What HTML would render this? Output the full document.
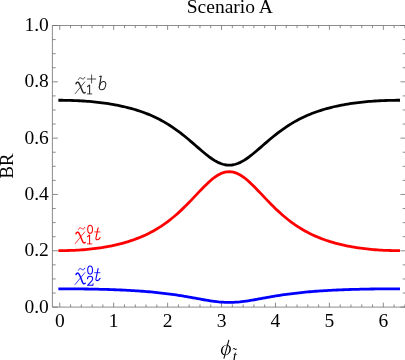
<!DOCTYPE html>
<html><head><meta charset="utf-8"><title>Scenario A</title>
<style>html,body{margin:0;padding:0;background:#fff;overflow:hidden}body{width:405px;height:360px;font-family:"Liberation Serif",serif}svg{display:block;will-change:transform}</style>
</head><body>
<svg width="405" height="360" viewBox="0 0 405 360">
<g stroke="#6e6e6e" stroke-width="0.8" fill="none">
<path d="M52.40 25.50 H406.00 V307.10 H52.40 Z"/>
<path d="M59.75 307.10v-4.40 M59.75 25.50v4.40 M70.54 307.10v-2.65 M70.54 25.50v2.65 M81.32 307.10v-2.65 M81.32 25.50v2.65 M92.11 307.10v-2.65 M92.11 25.50v2.65 M102.89 307.10v-2.65 M102.89 25.50v2.65 M113.68 307.10v-4.40 M113.68 25.50v4.40 M124.47 307.10v-2.65 M124.47 25.50v2.65 M135.25 307.10v-2.65 M135.25 25.50v2.65 M146.04 307.10v-2.65 M146.04 25.50v2.65 M156.82 307.10v-2.65 M156.82 25.50v2.65 M167.61 307.10v-4.40 M167.61 25.50v4.40 M178.40 307.10v-2.65 M178.40 25.50v2.65 M189.18 307.10v-2.65 M189.18 25.50v2.65 M199.97 307.10v-2.65 M199.97 25.50v2.65 M210.75 307.10v-2.65 M210.75 25.50v2.65 M221.54 307.10v-4.40 M221.54 25.50v4.40 M232.33 307.10v-2.65 M232.33 25.50v2.65 M243.11 307.10v-2.65 M243.11 25.50v2.65 M253.90 307.10v-2.65 M253.90 25.50v2.65 M264.68 307.10v-2.65 M264.68 25.50v2.65 M275.47 307.10v-4.40 M275.47 25.50v4.40 M286.26 307.10v-2.65 M286.26 25.50v2.65 M297.04 307.10v-2.65 M297.04 25.50v2.65 M307.83 307.10v-2.65 M307.83 25.50v2.65 M318.61 307.10v-2.65 M318.61 25.50v2.65 M329.40 307.10v-4.40 M329.40 25.50v4.40 M340.19 307.10v-2.65 M340.19 25.50v2.65 M350.97 307.10v-2.65 M350.97 25.50v2.65 M361.76 307.10v-2.65 M361.76 25.50v2.65 M372.54 307.10v-2.65 M372.54 25.50v2.65 M383.33 307.10v-4.40 M383.33 25.50v4.40 M394.12 307.10v-2.65 M394.12 25.50v2.65 M404.90 307.10v-2.65 M404.90 25.50v2.65 M52.40 307.10h5.50 M406.00 307.10h-5.50 M52.40 293.02h3.30 M406.00 293.02h-3.30 M52.40 278.94h3.30 M406.00 278.94h-3.30 M52.40 264.86h3.30 M406.00 264.86h-3.30 M52.40 250.78h5.50 M406.00 250.78h-5.50 M52.40 236.70h3.30 M406.00 236.70h-3.30 M52.40 222.62h3.30 M406.00 222.62h-3.30 M52.40 208.54h3.30 M406.00 208.54h-3.30 M52.40 194.46h5.50 M406.00 194.46h-5.50 M52.40 180.38h3.30 M406.00 180.38h-3.30 M52.40 166.30h3.30 M406.00 166.30h-3.30 M52.40 152.22h3.30 M406.00 152.22h-3.30 M52.40 138.14h5.50 M406.00 138.14h-5.50 M52.40 124.06h3.30 M406.00 124.06h-3.30 M52.40 109.98h3.30 M406.00 109.98h-3.30 M52.40 95.90h3.30 M406.00 95.90h-3.30 M52.40 81.82h5.50 M406.00 81.82h-5.50 M52.40 67.74h3.30 M406.00 67.74h-3.30 M52.40 53.66h3.30 M406.00 53.66h-3.30 M52.40 39.58h3.30 M406.00 39.58h-3.30 M52.40 25.50h5.50 M406.00 25.50h-5.50"/>
</g>
<path d="M59.75 100.26 L61.87 100.27 L63.99 100.29 L66.10 100.32 L68.22 100.36 L70.34 100.41 L72.46 100.48 L74.57 100.56 L76.69 100.65 L78.81 100.75 L80.93 100.87 L83.05 101.00 L85.16 101.14 L87.28 101.30 L89.40 101.47 L91.52 101.66 L93.64 101.86 L95.75 102.07 L97.87 102.30 L99.99 102.55 L102.11 102.82 L104.22 103.10 L106.34 103.39 L108.46 103.71 L110.58 104.05 L112.70 104.40 L114.81 104.78 L116.93 105.18 L119.05 105.60 L121.17 106.04 L123.28 106.51 L125.40 107.00 L127.52 107.52 L129.64 108.07 L131.76 108.64 L133.87 109.24 L135.99 109.88 L138.11 110.55 L140.23 111.25 L142.35 111.99 L144.46 112.76 L146.58 113.57 L148.70 114.42 L150.82 115.32 L152.93 116.25 L155.05 117.23 L157.17 118.26 L159.29 119.33 L161.41 120.46 L163.52 121.63 L165.64 122.86 L167.76 124.14 L169.88 125.47 L171.99 126.86 L174.11 128.30 L176.23 129.79 L178.35 131.34 L180.47 132.93 L182.58 134.58 L184.70 136.27 L186.82 138.01 L188.94 139.78 L191.06 141.58 L193.17 143.41 L195.29 145.25 L197.41 147.10 L199.53 148.93 L201.64 150.75 L203.76 152.54 L205.88 154.27 L208.00 155.93 L210.12 157.51 L212.23 158.99 L214.35 160.35 L216.47 161.57 L218.59 162.64 L220.70 163.53 L222.82 164.24 L224.94 164.76 L227.06 165.07 L229.18 165.17 L231.29 165.07 L233.41 164.76 L235.53 164.24 L237.65 163.53 L239.77 162.64 L241.88 161.57 L244.00 160.35 L246.12 158.99 L248.24 157.51 L250.35 155.93 L252.47 154.27 L254.59 152.54 L256.71 150.75 L258.83 148.93 L260.94 147.10 L263.06 145.25 L265.18 143.41 L267.30 141.58 L269.41 139.78 L271.53 138.01 L273.65 136.27 L275.77 134.58 L277.89 132.93 L280.00 131.34 L282.12 129.79 L284.24 128.30 L286.36 126.86 L288.48 125.47 L290.59 124.14 L292.71 122.86 L294.83 121.63 L296.95 120.46 L299.06 119.33 L301.18 118.26 L303.30 117.23 L305.42 116.25 L307.54 115.32 L309.65 114.42 L311.77 113.57 L313.89 112.76 L316.01 111.99 L318.12 111.25 L320.24 110.55 L322.36 109.88 L324.48 109.24 L326.60 108.64 L328.71 108.07 L330.83 107.52 L332.95 107.00 L335.07 106.51 L337.19 106.04 L339.30 105.60 L341.42 105.18 L343.54 104.78 L345.66 104.40 L347.77 104.05 L349.89 103.71 L352.01 103.39 L354.13 103.10 L356.25 102.82 L358.36 102.55 L360.48 102.30 L362.60 102.07 L364.72 101.86 L366.83 101.66 L368.95 101.47 L371.07 101.30 L373.19 101.14 L375.31 101.00 L377.42 100.87 L379.54 100.75 L381.66 100.65 L383.78 100.56 L385.90 100.48 L388.01 100.41 L390.13 100.36 L392.25 100.32 L394.37 100.29 L396.48 100.27 L398.60 100.26" fill="none" stroke="#000" stroke-width="2.8" stroke-linecap="square" stroke-linejoin="round"/>
<path d="M59.75 250.64 L61.87 250.63 L63.99 250.61 L66.10 250.57 L68.22 250.52 L70.34 250.46 L72.46 250.38 L74.57 250.28 L76.69 250.17 L78.81 250.04 L80.93 249.90 L83.05 249.74 L85.16 249.57 L87.28 249.38 L89.40 249.17 L91.52 248.94 L93.64 248.70 L95.75 248.44 L97.87 248.16 L99.99 247.86 L102.11 247.54 L104.22 247.19 L106.34 246.83 L108.46 246.44 L110.58 246.04 L112.70 245.60 L114.81 245.14 L116.93 244.66 L119.05 244.15 L121.17 243.61 L123.28 243.04 L125.40 242.44 L127.52 241.81 L129.64 241.15 L131.76 240.45 L133.87 239.71 L135.99 238.94 L138.11 238.13 L140.23 237.27 L142.35 236.38 L144.46 235.43 L146.58 234.45 L148.70 233.41 L150.82 232.32 L152.93 231.18 L155.05 229.99 L157.17 228.74 L159.29 227.43 L161.41 226.07 L163.52 224.64 L165.64 223.14 L167.76 221.59 L169.88 219.97 L171.99 218.28 L174.11 216.53 L176.23 214.71 L178.35 212.83 L180.47 210.88 L182.58 208.88 L184.70 206.82 L186.82 204.71 L188.94 202.55 L191.06 200.36 L193.17 198.14 L195.29 195.89 L197.41 193.65 L199.53 191.41 L201.64 189.20 L203.76 187.03 L205.88 184.92 L208.00 182.89 L210.12 180.97 L212.23 179.17 L214.35 177.52 L216.47 176.03 L218.59 174.74 L220.70 173.65 L222.82 172.79 L224.94 172.16 L227.06 171.78 L229.18 171.65 L231.29 171.78 L233.41 172.16 L235.53 172.79 L237.65 173.65 L239.77 174.74 L241.88 176.03 L244.00 177.52 L246.12 179.17 L248.24 180.97 L250.35 182.89 L252.47 184.92 L254.59 187.03 L256.71 189.20 L258.83 191.41 L260.94 193.65 L263.06 195.89 L265.18 198.14 L267.30 200.36 L269.41 202.55 L271.53 204.71 L273.65 206.82 L275.77 208.88 L277.89 210.88 L280.00 212.83 L282.12 214.71 L284.24 216.53 L286.36 218.28 L288.48 219.97 L290.59 221.59 L292.71 223.14 L294.83 224.64 L296.95 226.07 L299.06 227.43 L301.18 228.74 L303.30 229.99 L305.42 231.18 L307.54 232.32 L309.65 233.41 L311.77 234.45 L313.89 235.43 L316.01 236.38 L318.12 237.27 L320.24 238.13 L322.36 238.94 L324.48 239.71 L326.60 240.45 L328.71 241.15 L330.83 241.81 L332.95 242.44 L335.07 243.04 L337.19 243.61 L339.30 244.15 L341.42 244.66 L343.54 245.14 L345.66 245.60 L347.77 246.04 L349.89 246.44 L352.01 246.83 L354.13 247.19 L356.25 247.54 L358.36 247.86 L360.48 248.16 L362.60 248.44 L364.72 248.70 L366.83 248.94 L368.95 249.17 L371.07 249.38 L373.19 249.57 L375.31 249.74 L377.42 249.90 L379.54 250.04 L381.66 250.17 L383.78 250.28 L385.90 250.38 L388.01 250.46 L390.13 250.52 L392.25 250.57 L394.37 250.61 L396.48 250.63 L398.60 250.64" fill="none" stroke="#f00" stroke-width="2.8" stroke-linecap="square" stroke-linejoin="round"/>
<path d="M59.75 288.80 L61.87 288.80 L63.99 288.80 L66.10 288.81 L68.22 288.82 L70.34 288.83 L72.46 288.84 L74.57 288.86 L76.69 288.88 L78.81 288.90 L80.93 288.92 L83.05 288.95 L85.16 288.98 L87.28 289.01 L89.40 289.05 L91.52 289.09 L93.64 289.13 L95.75 289.18 L97.87 289.22 L99.99 289.28 L102.11 289.33 L104.22 289.39 L106.34 289.45 L108.46 289.52 L110.58 289.59 L112.70 289.66 L114.81 289.74 L116.93 289.83 L119.05 289.91 L121.17 290.01 L123.28 290.10 L125.40 290.21 L127.52 290.32 L129.64 290.43 L131.76 290.55 L133.87 290.68 L135.99 290.81 L138.11 290.95 L140.23 291.10 L142.35 291.25 L144.46 291.41 L146.58 291.58 L148.70 291.76 L150.82 291.95 L152.93 292.15 L155.05 292.35 L157.17 292.57 L159.29 292.79 L161.41 293.03 L163.52 293.27 L165.64 293.53 L167.76 293.80 L169.88 294.08 L171.99 294.37 L174.11 294.67 L176.23 294.98 L178.35 295.31 L180.47 295.64 L182.58 295.99 L184.70 296.34 L186.82 296.70 L188.94 297.08 L191.06 297.45 L193.17 297.84 L195.29 298.22 L197.41 298.61 L199.53 298.99 L201.64 299.38 L203.76 299.75 L205.88 300.11 L208.00 300.46 L210.12 300.79 L212.23 301.10 L214.35 301.39 L216.47 301.64 L218.59 301.87 L220.70 302.05 L222.82 302.20 L224.94 302.31 L227.06 302.38 L229.18 302.40 L231.29 302.38 L233.41 302.31 L235.53 302.20 L237.65 302.05 L239.77 301.87 L241.88 301.64 L244.00 301.39 L246.12 301.10 L248.24 300.79 L250.35 300.46 L252.47 300.11 L254.59 299.75 L256.71 299.38 L258.83 298.99 L260.94 298.61 L263.06 298.22 L265.18 297.84 L267.30 297.45 L269.41 297.08 L271.53 296.70 L273.65 296.34 L275.77 295.99 L277.89 295.64 L280.00 295.31 L282.12 294.98 L284.24 294.67 L286.36 294.37 L288.48 294.08 L290.59 293.80 L292.71 293.53 L294.83 293.27 L296.95 293.03 L299.06 292.79 L301.18 292.57 L303.30 292.35 L305.42 292.15 L307.54 291.95 L309.65 291.76 L311.77 291.58 L313.89 291.41 L316.01 291.25 L318.12 291.10 L320.24 290.95 L322.36 290.81 L324.48 290.68 L326.60 290.55 L328.71 290.43 L330.83 290.32 L332.95 290.21 L335.07 290.10 L337.19 290.01 L339.30 289.91 L341.42 289.83 L343.54 289.74 L345.66 289.66 L347.77 289.59 L349.89 289.52 L352.01 289.45 L354.13 289.39 L356.25 289.33 L358.36 289.28 L360.48 289.22 L362.60 289.18 L364.72 289.13 L366.83 289.09 L368.95 289.05 L371.07 289.01 L373.19 288.98 L375.31 288.95 L377.42 288.92 L379.54 288.90 L381.66 288.88 L383.78 288.86 L385.90 288.84 L388.01 288.83 L390.13 288.82 L392.25 288.81 L394.37 288.80 L396.48 288.80 L398.60 288.80" fill="none" stroke="#00f" stroke-width="2.8" stroke-linecap="square" stroke-linejoin="round"/>
<g font-family="'Liberation Serif', serif" font-size="19.5" fill="#000">
<text x="48.8" y="312.70" text-anchor="end">0.0</text>
<text x="48.8" y="256.38" text-anchor="end">0.2</text>
<text x="48.8" y="200.06" text-anchor="end">0.4</text>
<text x="48.8" y="143.74" text-anchor="end">0.6</text>
<text x="48.8" y="87.42" text-anchor="end">0.8</text>
<text x="48.8" y="31.10" text-anchor="end">1.0</text>
<text x="59.75" y="326.7" text-anchor="middle">0</text>
<text x="113.68" y="326.7" text-anchor="middle">1</text>
<text x="167.61" y="326.7" text-anchor="middle">2</text>
<text x="221.54" y="326.7" text-anchor="middle">3</text>
<text x="275.47" y="326.7" text-anchor="middle">4</text>
<text x="329.40" y="326.7" text-anchor="middle">5</text>
<text x="383.33" y="326.7" text-anchor="middle">6</text>
<text x="229.8" y="12.8" text-anchor="middle">Scenario A</text>
<text transform="translate(12.9,166.1) rotate(-90)" text-anchor="middle" font-size="18.7">BR</text>
<g stroke="none" fill="#000"><path fill-rule="evenodd" transform="translate(225.9 350) skewX(-9)" d="M-4.95 0 A4.95 5.35 0 1 0 4.95 0 A4.95 5.35 0 1 0 -4.95 0 Z M-3.45 0 A3.45 4.70 0 1 0 3.45 0 A3.45 4.70 0 1 0 -3.45 0 Z"/><path d="M228.75 340.3 L224.0 358.2" fill="none" stroke="#000" stroke-width="1.05" stroke-linecap="round"/></g>
<text x="232.7" y="361.4" font-style="italic" font-size="15">t</text>
<text x="232.6" y="358.2" font-size="14">˜</text>
</g>
<g transform="translate(75.00 89.90)" fill="none" stroke="#262626" stroke-linecap="round" stroke-linejoin="round"><path d="M1.0,-6.2 C1.4,-7.3 2.3,-7.9 3.1,-7.6 C3.9,-7.3 4.3,-6.4 4.9,-4.9 L7.6,1.7 C8.2,3.1 9.1,3.5 10.2,2.6" stroke-width="1.45"/><path d="M9.8,-8.05 L0.1,3.8" stroke-width="0.75"/><path d="M3.4,-10.5 C4.1,-12.3 5.4,-12.5 6.6,-11.5 C7.8,-10.5 9.1,-10.7 9.8,-12.5" stroke-width="0.85"/><path d="M11.9,-10.9 H21.1 M16.6,-15.4 V-6.5" stroke-width="0.82" stroke-linecap="butt"/><path d="M12.5,-3.3 L14.6,-4.9 V3.9" stroke-width="1.05"/><path d="M12.4,4.0 H16.8" stroke-width="0.85"/><path d="M24.7,-13.4 L26.2,-13.8 L24.25,-2.6" stroke-width="1.1"/><path d="M24.7,-4.6 C25.4,-7.0 27.0,-8.4 28.6,-8.4 C30.2,-8.4 31.1,-7.0 30.8,-5.2 C30.4,-2.4 28.6,-0.1 26.5,-0.1 C24.9,-0.1 24.0,-1.3 24.3,-3.2" stroke-width="1.05"/></g>
<g transform="translate(75.00 239.90)" fill="none" stroke="#f00" stroke-linecap="round" stroke-linejoin="round"><path d="M1.0,-6.2 C1.4,-7.3 2.3,-7.9 3.1,-7.6 C3.9,-7.3 4.3,-6.4 4.9,-4.9 L7.6,1.7 C8.2,3.1 9.1,3.5 10.2,2.6" stroke-width="1.45"/><path d="M9.8,-8.05 L0.1,3.8" stroke-width="0.75"/><path d="M3.4,-10.5 C4.1,-12.3 5.4,-12.5 6.6,-11.5 C7.8,-10.5 9.1,-10.7 9.8,-12.5" stroke-width="0.85"/><ellipse cx="15.1" cy="-10.6" rx="2.4" ry="4.05" stroke-width="1.05"/><path d="M12.5,-3.3 L14.6,-4.9 V3.9" stroke-width="1.05"/><path d="M12.4,4.0 H16.8" stroke-width="0.85"/><path d="M23.1,-12.1 L21.0,-2.2 C20.7,-0.6 21.3,-0.1 22.3,-0.1 C23.4,-0.1 24.4,-1.0 25.1,-2.4" stroke-width="1.1"/><path d="M19.7,-8.0 H25.0" stroke-width="0.8"/></g>
<g transform="translate(75.00 280.70)" fill="none" stroke="#00f" stroke-linecap="round" stroke-linejoin="round"><path d="M1.0,-6.2 C1.4,-7.3 2.3,-7.9 3.1,-7.6 C3.9,-7.3 4.3,-6.4 4.9,-4.9 L7.6,1.7 C8.2,3.1 9.1,3.5 10.2,2.6" stroke-width="1.45"/><path d="M9.8,-8.05 L0.1,3.8" stroke-width="0.75"/><path d="M3.4,-10.5 C4.1,-12.3 5.4,-12.5 6.6,-11.5 C7.8,-10.5 9.1,-10.7 9.8,-12.5" stroke-width="0.85"/><ellipse cx="15.1" cy="-10.6" rx="2.4" ry="4.05" stroke-width="1.05"/><path d="M12.5,-2.0 C12.5,-3.6 13.7,-4.4 15.1,-4.4 C16.7,-4.4 17.7,-3.3 17.7,-1.9 C17.7,-0.3 16.4,0.9 14.7,2.4 L12.5,4.6 H17.8 L18.1,3.1" stroke-width="1.05"/><path d="M23.1,-12.1 L21.0,-2.2 C20.7,-0.6 21.3,-0.1 22.3,-0.1 C23.4,-0.1 24.4,-1.0 25.1,-2.4" stroke-width="1.1"/><path d="M19.7,-8.0 H25.0" stroke-width="0.8"/></g>
</svg>
</body></html>
